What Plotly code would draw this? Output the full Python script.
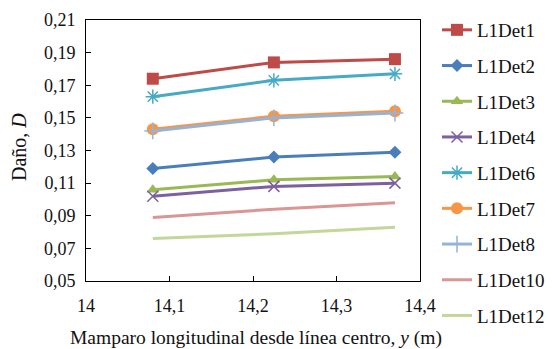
import plotly.graph_objects as go

x_vals = [14.08, 14.225, 14.37]
series_names = ["L1Det1", "L1Det2", "L1Det3", "L1Det4", "L1Det6", "L1Det7", "L1Det8", "L1Det10", "L1Det12"]
det1 = [0.174, 0.184, 0.186]
det2 = [0.119, 0.126, 0.129]
det3 = [0.106, 0.112, 0.114]
det4 = [0.102, 0.108, 0.110]
det6 = [0.163, 0.173, 0.177]
det7 = [0.143, 0.151, 0.154]
det8 = [0.142, 0.150, 0.153]
det10 = [0.089, 0.094, 0.098]
det12 = [0.076, 0.079, 0.083]
series_values = [det1, det2, det3, det4, det6, det7, det8, det10, det12]

x_tickvals = [14, 14.1, 14.2, 14.3, 14.4]
x_ticktext = ["14", "14,1", "14,2", "14,3", "14,4"]
y_tickvals = [0.05, 0.07, 0.09, 0.11, 0.13, 0.15, 0.17, 0.19, 0.21]
y_ticktext = ["0,05", "0,07", "0,09", "0,11", "0,13", "0,15", "0,17", "0,19", "0,21"]

colors = ["#BE4B48", "#4A7EBB", "#98B954", "#7D60A0", "#46AAC5", "#F79646", "#95B3D7", "#D99694", "#C3D69B"]
symbols = ["square", "diamond", "triangle-up", "x-thin", "asterisk-open", "circle", "cross-thin", None, None]
sizes = [12, 10, 11, 11, 12, 12, 12, 0, 0]

FONT = "Liberation Serif"
TXT = "#111111"
W, H = 552, 349
L, R, T, B = 86, 132, 20, 68
PW, PH = W - L - R, H - T - B

fig = go.Figure()
for i, (name, vals) in enumerate(zip(series_names, series_values)):
    sym = symbols[i]
    if sym is None:
        mode = "lines"
        marker = None
    else:
        mode = "lines+markers"
        marker = dict(symbol=sym, size=sizes[i], color=colors[i],
                      line=dict(color=colors[i], width=1.5 if "thin" in sym or "asterisk" in sym else 0))
    fig.add_trace(go.Scatter(
        x=x_vals, y=vals, name=name, mode=mode,
        line=dict(color=colors[i], width=3),
        marker=marker, legendgroup=name,
    ))

fig.update_layout(
    width=W, height=H,
    margin=dict(l=L, r=R, t=T, b=B, autoexpand=False),
    paper_bgcolor="white", plot_bgcolor="white",
    font=dict(family=FONT, size=18, color=TXT),
    showlegend=True,
    legend=dict(x=437 / W, y=(H - 11) / H, xref="container", yref="container",
                xanchor="left", yanchor="top",
                font=dict(family=FONT, size=19, color=TXT),
                tracegroupgap=8, itemwidth=30, maxheight=345,
                bgcolor="rgba(0,0,0,0)"),
    xaxis=dict(range=[14, 14.4], tickvals=x_tickvals, ticktext=x_ticktext,
               showgrid=False, zeroline=False, showline=True, linecolor="black",
               linewidth=1, mirror=True, ticks="inside", ticklen=5, tickcolor="black",
               ticklabelstandoff=8, tickfont=dict(family=FONT, size=18, color=TXT),
               automargin=False),
    yaxis=dict(range=[0.05, 0.21], tickvals=y_tickvals, ticktext=y_ticktext,
               showgrid=False, zeroline=False, showline=True, linecolor="black",
               linewidth=1, mirror=True, ticks="inside", ticklen=5, tickcolor="black",
               ticklabelstandoff=6, tickfont=dict(family=FONT, size=18, color=TXT),
               automargin=False),
    annotations=[
        dict(text="Mamparo longitudinal desde línea centro, <i>y</i> (m)",
             xref="paper", yref="paper", x=(255.5 - L) / PW, y=-(338 - (H - B)) / PH,
             xanchor="center", yanchor="middle", showarrow=False,
             font=dict(family=FONT, size=19.5, color=TXT)),
        dict(text="Daño, <i>D</i>",
             xref="paper", yref="paper", x=-(L - 19) / PW, y=(H - B - 147) / PH,
             xanchor="center", yanchor="middle", showarrow=False, textangle=-90,
             font=dict(family=FONT, size=20, color=TXT)),
    ],
)

fig.write_html("out.html")
